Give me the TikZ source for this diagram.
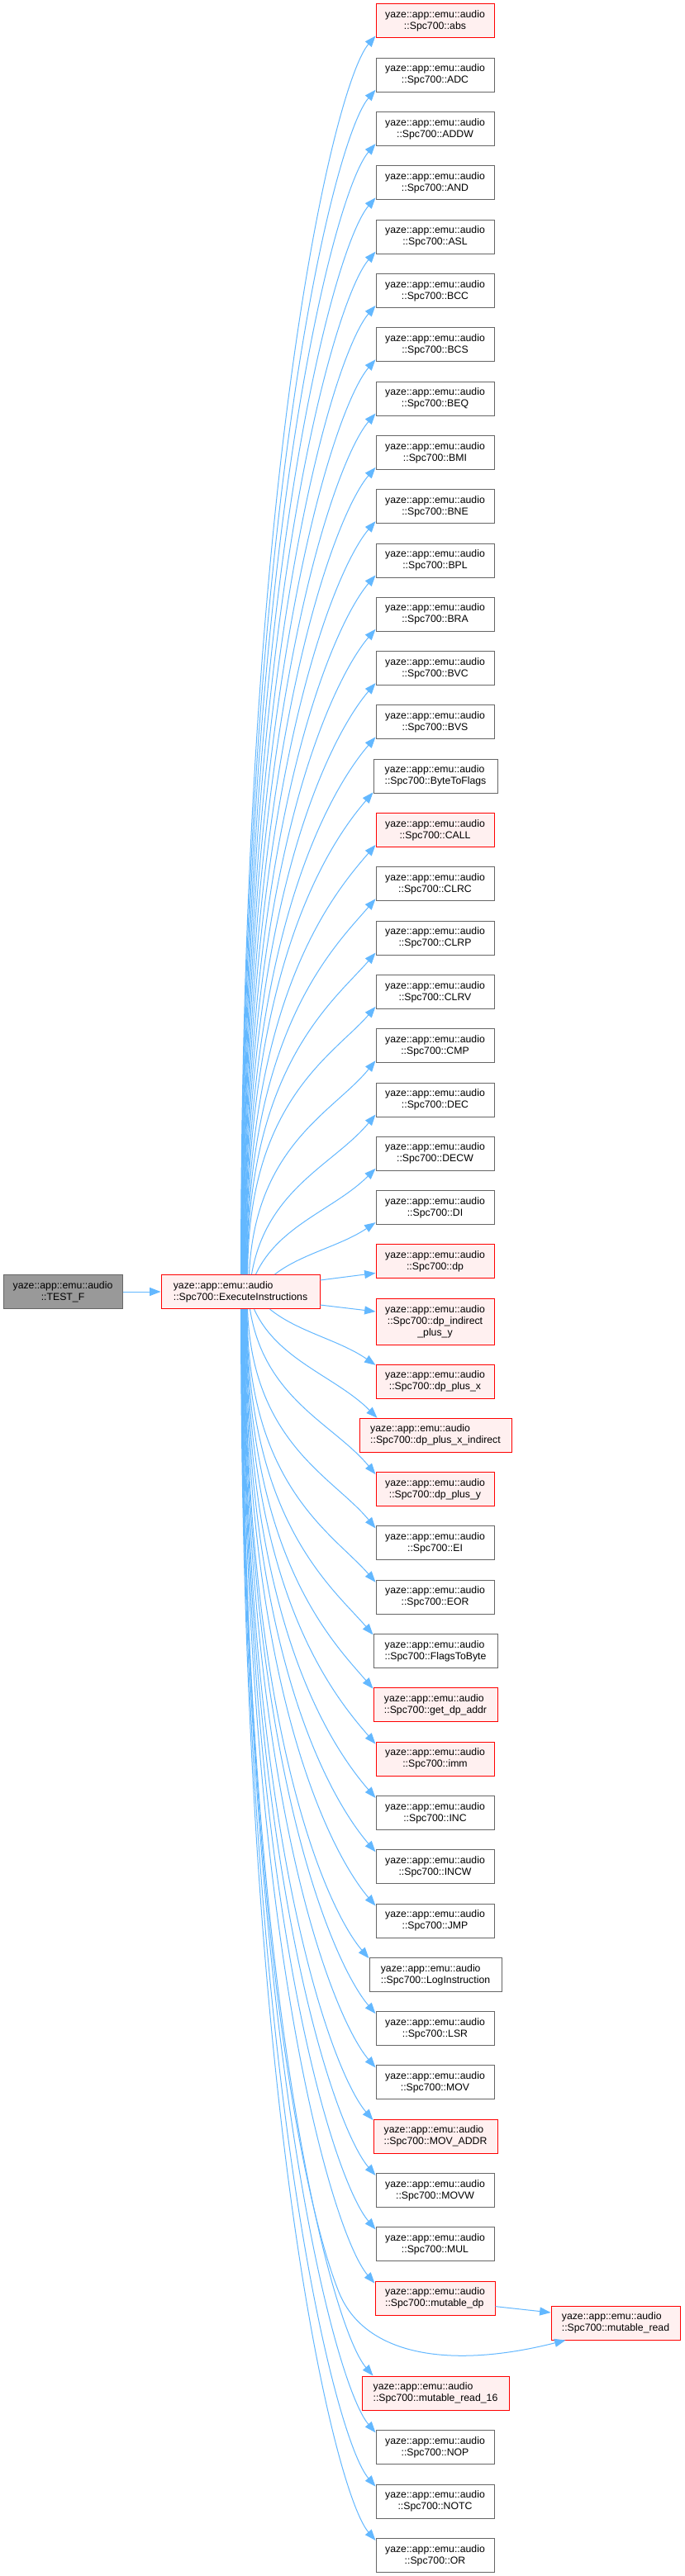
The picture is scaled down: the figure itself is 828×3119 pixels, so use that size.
\documentclass[tikz,border=0pt]{standalone}
\usepackage{fontspec}
\setmainfont{Liberation Sans}
\usetikzlibrary{arrows.meta,calc}
\definecolor{edgeblue}{HTML}{63B8FF}
\definecolor{nodegray}{HTML}{666666}
\definecolor{redfill}{HTML}{FFF0F0}
\definecolor{rootfill}{HTML}{999999}
\tikzset{
  gnode/.style={rectangle,draw=nodegray,fill=white,line width=0.75pt,inner sep=0pt,
    minimum width=107.25pt,minimum height=30.75pt,align=center,
    font=\fontsize{9.2pt}{10.5pt}\selectfont},
  rnode/.style={gnode,draw=red,fill=redfill},
  lft/.style={align=left},
  edge/.style={draw=edgeblue,line width=0.75pt,-{Triangle[length=10pt,width=7.5pt]}}
}
\newcommand\upedge[3]{\draw[edge] let \p1=([xshift=#2]exec.north west), \p2=([#3]#1.south west),
  \n1={\y2-\y1}, \n2={\x2-\x1}, \n3={max(0,1-\n1/225)} in
  (\p1) .. controls ({\x1+\n2*\n3/3},{\y1+\n1*(0.65-0.32*\n3)}) and
  ({\x2-37.5*(1-\n3)-\n2*\n3/3},{\y2-43.5*(1-\n3)-\n1*\n3/3}) .. (\p2);}
\newcommand\downedge[3]{\draw[edge] let \p1=([xshift=#2]exec.south west), \p2=([#3]#1.north west),
  \n1={\y1-\y2}, \n2={\x2-\x1}, \n3={max(0,1-\n1/225)} in
  (\p1) .. controls ({\x1+\n2*\n3/3},{\y1-\n1*(0.65-0.32*\n3)}) and
  ({\x2-37.5*(1-\n3)-\n2*\n3/3},{\y2+43.5*(1-\n3)+\n1*\n3/3}) .. (\p2);}
\begin{document}
\begin{tikzpicture}[x=0.75pt,y=-0.75pt]
\fill[white] (0,0) rectangle (828,3119);
\useasboundingbox (0,0) rectangle (828,3119);
% root and caller
\node[gnode,fill=rootfill,minimum width=108pt] (testf) at (76,1564) {yaze::app::emu::audio\\::TEST\_F};
\node[rnode,lft,minimum width=144pt] (exec) at (291,1564) {yaze::app::emu::audio\\::Spc700::ExecuteInstructions};
% callees
\node[rnode] (abs) at (526.5,25.5) {yaze::app::emu::audio\\::Spc700::abs};
\node[gnode] (ADC) at (526.5,90.8) {yaze::app::emu::audio\\::Spc700::ADC};
\node[gnode] (ADDW) at (526.5,156.1) {yaze::app::emu::audio\\::Spc700::ADDW};
\node[gnode] (AND) at (526.5,221.4) {yaze::app::emu::audio\\::Spc700::AND};
\node[gnode] (ASL) at (526.5,286.7) {yaze::app::emu::audio\\::Spc700::ASL};
\node[gnode] (BCC) at (526.5,352.0) {yaze::app::emu::audio\\::Spc700::BCC};
\node[gnode] (BCS) at (526.5,417.3) {yaze::app::emu::audio\\::Spc700::BCS};
\node[gnode] (BEQ) at (526.5,482.6) {yaze::app::emu::audio\\::Spc700::BEQ};
\node[gnode] (BMI) at (526.5,547.9) {yaze::app::emu::audio\\::Spc700::BMI};
\node[gnode] (BNE) at (526.5,613.2) {yaze::app::emu::audio\\::Spc700::BNE};
\node[gnode] (BPL) at (526.5,678.5) {yaze::app::emu::audio\\::Spc700::BPL};
\node[gnode] (BRA) at (526.5,743.8) {yaze::app::emu::audio\\::Spc700::BRA};
\node[gnode] (BVC) at (526.5,809.1) {yaze::app::emu::audio\\::Spc700::BVC};
\node[gnode] (BVS) at (526.5,874.4) {yaze::app::emu::audio\\::Spc700::BVS};
\node[gnode,lft,minimum width=112.5pt] (BTF) at (527,939.7) {yaze::app::emu::audio\\::Spc700::ByteToFlags};
\node[rnode] (CALL) at (526.5,1005.0) {yaze::app::emu::audio\\::Spc700::CALL};
\node[gnode] (CLRC) at (526.5,1070.3) {yaze::app::emu::audio\\::Spc700::CLRC};
\node[gnode] (CLRP) at (526.5,1135.6) {yaze::app::emu::audio\\::Spc700::CLRP};
\node[gnode] (CLRV) at (526.5,1200.9) {yaze::app::emu::audio\\::Spc700::CLRV};
\node[gnode] (CMP) at (526.5,1266.2) {yaze::app::emu::audio\\::Spc700::CMP};
\node[gnode] (DEC) at (526.5,1331.5) {yaze::app::emu::audio\\::Spc700::DEC};
\node[gnode] (DECW) at (526.5,1396.8) {yaze::app::emu::audio\\::Spc700::DECW};
\node[gnode] (DI) at (526.5,1462.1) {yaze::app::emu::audio\\::Spc700::DI};
\node[rnode] (dp) at (526.5,1527.4) {yaze::app::emu::audio\\::Spc700::dp};
\node[rnode,minimum height=42pt] (dpiy) at (526.5,1600) {yaze::app::emu::audio\\::Spc700::dp\_indirect\\\_plus\_y};
\node[rnode] (dppx) at (526.5,1672.5) {yaze::app::emu::audio\\::Spc700::dp\_plus\_x};
\node[rnode,lft,minimum width=138pt] (dppxi) at (527,1737.8) {yaze::app::emu::audio\\::Spc700::dp\_plus\_x\_indirect};
\node[rnode] (dppy) at (526.5,1803.1) {yaze::app::emu::audio\\::Spc700::dp\_plus\_y};
\node[gnode] (EI) at (526.5,1868.4) {yaze::app::emu::audio\\::Spc700::EI};
\node[gnode] (EOR) at (526.5,1933.7) {yaze::app::emu::audio\\::Spc700::EOR};
\node[gnode,lft,minimum width=112.5pt] (FTB) at (527,1999.0) {yaze::app::emu::audio\\::Spc700::FlagsToByte};
\node[rnode,lft,minimum width=112.5pt] (gda) at (527,2064.3) {yaze::app::emu::audio\\::Spc700::get\_dp\_addr};
\node[rnode] (imm) at (526.5,2129.6) {yaze::app::emu::audio\\::Spc700::imm};
\node[gnode] (INC) at (526.5,2194.9) {yaze::app::emu::audio\\::Spc700::INC};
\node[gnode] (INCW) at (526.5,2260.2) {yaze::app::emu::audio\\::Spc700::INCW};
\node[gnode] (JMP) at (526.5,2325.5) {yaze::app::emu::audio\\::Spc700::JMP};
\node[gnode,lft,minimum width=120pt] (LogI) at (527,2390.8) {yaze::app::emu::audio\\::Spc700::LogInstruction};
\node[gnode] (LSR) at (526.5,2456.1) {yaze::app::emu::audio\\::Spc700::LSR};
\node[gnode] (MOV) at (526.5,2521.4) {yaze::app::emu::audio\\::Spc700::MOV};
\node[rnode,lft,minimum width=112.5pt] (MOVA) at (527,2586.7) {yaze::app::emu::audio\\::Spc700::MOV\_ADDR};
\node[gnode] (MOVW) at (526.5,2652.0) {yaze::app::emu::audio\\::Spc700::MOVW};
\node[gnode] (MUL) at (526.5,2717.3) {yaze::app::emu::audio\\::Spc700::MUL};
\node[rnode,lft,minimum width=108.75pt] (mdp) at (526.5,2782.6) {yaze::app::emu::audio\\::Spc700::mutable\_dp};
\node[rnode,lft,minimum width=133.5pt] (mr16) at (527,2897.5) {yaze::app::emu::audio\\::Spc700::mutable\_read\_16};
\node[gnode] (NOP) at (526.5,2963.3) {yaze::app::emu::audio\\::Spc700::NOP};
\node[gnode] (NOTC) at (526.5,3028.6) {yaze::app::emu::audio\\::Spc700::NOTC};
\node[gnode] (OR) at (526.5,3093.9) {yaze::app::emu::audio\\::Spc700::OR};
\node[rnode,lft,minimum width=117pt] (mread) at (745,2812.5) {yaze::app::emu::audio\\::Spc700::mutable\_read};
% edges
\draw[edge] (testf) -- (exec);
\upedge{abs}{72.8pt}{yshift=2.25pt}
\upedge{ADC}{73.1pt}{yshift=2.25pt}
\upedge{ADDW}{73.4pt}{yshift=2.25pt}
\upedge{AND}{73.8pt}{yshift=2.25pt}
\upedge{ASL}{74.1pt}{yshift=2.25pt}
\upedge{BCC}{74.5pt}{yshift=2.25pt}
\upedge{BCS}{74.8pt}{yshift=2.25pt}
\upedge{BEQ}{75.1pt}{yshift=2.25pt}
\upedge{BMI}{75.5pt}{yshift=2.25pt}
\upedge{BNE}{75.8pt}{yshift=2.25pt}
\upedge{BPL}{76.2pt}{yshift=2.25pt}
\upedge{BRA}{76.5pt}{yshift=2.25pt}
\upedge{BVC}{76.8pt}{yshift=2.25pt}
\upedge{BVS}{77.2pt}{yshift=2.25pt}
\upedge{BTF}{77.5pt}{yshift=1pt}
\upedge{CALL}{77.9pt}{yshift=2.25pt}
\upedge{CLRC}{78.2pt}{yshift=2.25pt}
\upedge{CLRP}{78.5pt}{yshift=2.25pt}
\upedge{CLRV}{78.9pt}{yshift=2.25pt}
\upedge{CMP}{80.25pt}{yshift=2.25pt}
\upedge{DEC}{82.5pt}{yshift=2.25pt}
\upedge{DECW}{86.25pt}{yshift=2.25pt}
\upedge{DI}{103.5pt}{yshift=2.25pt}
\draw[edge] ([yshift=10.5pt]exec.east) -- ([yshift=-10.5pt]dp.west);
\draw[edge] ([yshift=-12pt]exec.east) -- ([yshift=9pt]dpiy.west);
\downedge{dppx}{99pt}{yshift=-1pt}
\downedge{dppxi}{84.75pt}{xshift=16.5pt}
\downedge{dppy}{81pt}{yshift=-2.25pt}
\downedge{EI}{78.75pt}{yshift=-2.25pt}
\downedge{EOR}{78.4pt}{yshift=-2.25pt}
\downedge{FTB}{78.1pt}{yshift=-1pt}
\downedge{gda}{77.8pt}{yshift=-1pt}
\downedge{imm}{77.5pt}{yshift=-2.25pt}
\downedge{INC}{77.2pt}{yshift=-2.25pt}
\downedge{INCW}{76.9pt}{yshift=-2.25pt}
\downedge{JMP}{76.5pt}{yshift=-2.25pt}
\downedge{LogI}{76.2pt}{yshift=-1pt}
\downedge{LSR}{75.9pt}{yshift=-2.25pt}
\downedge{MOV}{75.6pt}{yshift=-2.25pt}
\downedge{MOVA}{75.3pt}{yshift=-1pt}
\downedge{MOVW}{75.0pt}{yshift=-2.25pt}
\downedge{MUL}{74.7pt}{yshift=-2.25pt}
\downedge{mdp}{74.3pt}{yshift=-2.25pt}
\downedge{mr16}{73.7pt}{xshift=10.5pt}
\downedge{NOP}{73.4pt}{yshift=-2.25pt}
\downedge{NOTC}{73.1pt}{yshift=-2.25pt}
\downedge{OR}{72.8pt}{yshift=-2.25pt}
\draw[edge] ([xshift=74pt]exec.south west) .. controls (294,2350) and (372,2680) .. (410,2775)
  .. controls (440,2850) and (540,2870) .. ([xshift=13.5pt]mread.south west);
\draw[edge] ([yshift=-7.5pt]mdp.east) -- ([yshift=9.4pt]mread.west);
\end{tikzpicture}
\end{document}
